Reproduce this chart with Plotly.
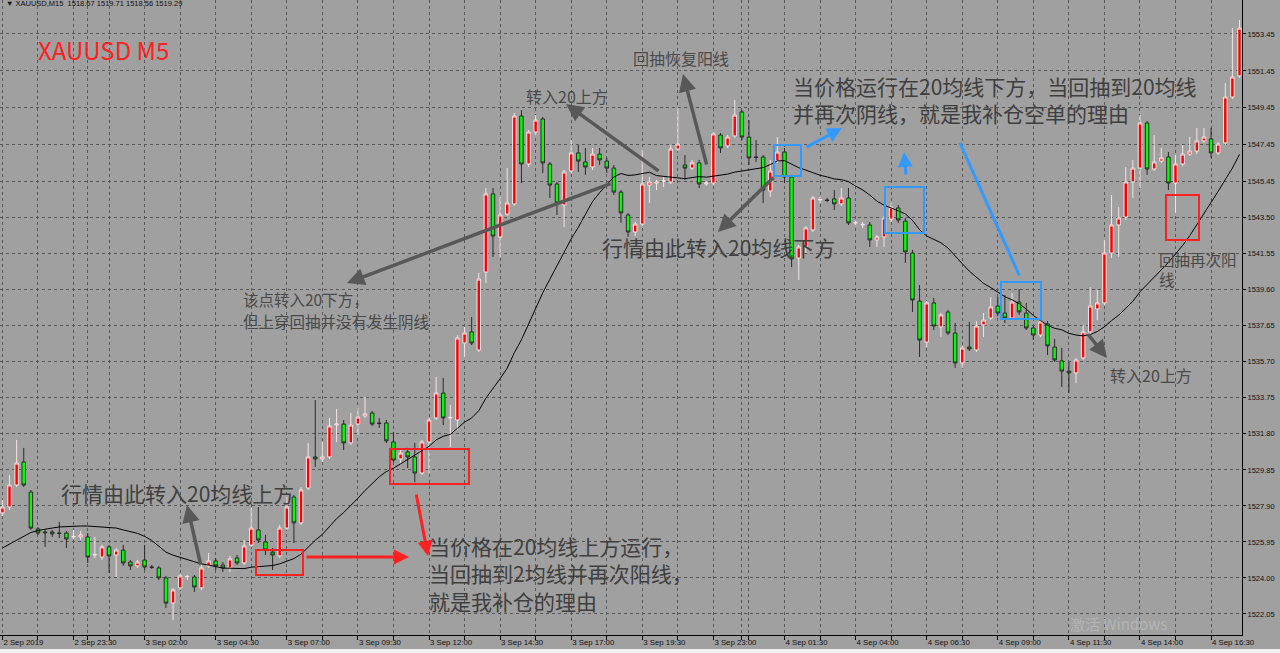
import plotly.graph_objects as go

# ---------------- data ----------------
opens = [1527.52,1527.84,1529.03,1530.28,1528.65,1526.65,1526.49,1526.49,1526.43,1526.43,
         1526.22,1526.22,1526.22,1525.24,1525.13,1525.68,1525.24,1525.51,1524.86,1524.65,
         1524.97,1524.59,1524.54,1524.00,1522.64,1523.46,1524.05,1524.05,1523.46,1524.65,
         1524.92,1524.70,1524.54,1525.08,1524.81,1525.78,1526.60,1525.95,1525.40,1525.19,
         1526.70,1528.38,1526.98,1528.87,1530.55,1530.44,1530.55,1532.28,1532.33,1531.31,
         1532.33,1532.77,1532.93,1532.39,1532.39,1531.36,1530.44,1530.82,1530.55,1529.68,
         1531.36,1532.66,1534.01,1532.66,1532.55,1536.72,1537.32,1536.34,1540.56,1544.79,
         1542.46,1543.70,1544.25,1549.01,1546.41,1548.14,1548.85,1546.41,1545.33,1544.19,
         1546.03,1547.01,1546.52,1546.25,1546.95,1546.57,1546.19,1544.89,1543.65,1542.73,
         1543.16,1545.27,1545.38,1545.49,1545.44,1547.22,1546.36,1546.19,1546.47,1545.33,
         1545.38,1547.98,1547.39,1547.93,1549.23,1547.87,1546.79,1546.79,1544.95,1546.57,
         1547.06,1545.71,1541.32,1541.92,1542.84,1544.46,1544.46,1544.52,1544.25,1544.57,
         1543.22,1543.11,1543.11,1542.30,1542.46,1543.43,1544.03,1543.32,1541.59,1538.99,
         1536.77,1538.89,1537.59,1538.40,1537.26,1535.64,1536.50,1536.34,1537.70,1538.07,
         1538.72,1538.34,1538.07,1538.94,1538.34,1537.53,1537.15,1537.75,1536.50,1535.75,
         1535.20,1535.10,1535.91,1537.32,1538.56,1538.89,1541.59,1543.11,1543.54,1545.44,
         1546.19,1548.63,1546.14,1546.57,1546.79,1545.38,1546.41,1546.95,1547.11,1547.66,
         1547.77,1547.01,1547.55,1550.04,1551.18]
highs = [1528.22,1529.57,1531.47,1531.04,1528.76,1526.76,1526.60,1526.60,1527.03,1526.54,
         1526.60,1526.54,1526.43,1526.22,1525.79,1525.79,1525.62,1525.79,1524.97,1524.97,
         1525.79,1524.70,1524.65,1524.11,1523.46,1524.22,1524.16,1524.16,1524.70,1525.35,
         1525.08,1524.86,1525.19,1525.24,1526.05,1527.79,1527.84,1526.33,1525.62,1526.87,
         1528.38,1528.49,1528.92,1531.31,1533.63,1531.36,1532.66,1533.15,1532.55,1532.93,
         1533.20,1533.80,1533.04,1532.66,1532.55,1531.90,1530.93,1531.04,1531.31,1531.47,
         1532.66,1534.88,1534.83,1533.36,1537.15,1537.59,1538.13,1540.51,1545.11,1545.11,
         1544.62,1546.19,1549.17,1549.33,1548.25,1549.06,1548.96,1546.52,1545.44,1546.09,
         1547.71,1547.44,1547.28,1547.28,1547.28,1546.74,1546.36,1545.00,1543.76,1543.27,
         1547.17,1545.71,1545.55,1545.71,1547.44,1549.44,1546.90,1546.63,1546.63,1545.49,
         1548.14,1548.09,1547.98,1549.88,1549.33,1548.79,1547.71,1546.90,1546.63,1547.87,
         1547.28,1545.82,1542.03,1543.05,1544.68,1544.62,1544.57,1545.00,1545.11,1545.11,
         1543.33,1543.27,1543.27,1542.57,1543.60,1544.30,1544.19,1543.49,1541.76,1539.86,
         1539.00,1539.16,1538.35,1538.51,1537.80,1536.56,1537.86,1537.91,1538.35,1539.21,
         1539.21,1539.32,1539.43,1539.64,1538.89,1537.64,1538.02,1537.91,1536.94,1536.45,
         1535.69,1535.91,1537.70,1539.75,1539.59,1542.30,1544.73,1544.08,1546.25,1546.63,
         1549.06,1548.74,1547.98,1547.28,1547.06,1546.90,1547.44,1547.87,1548.36,1548.36,
         1548.36,1547.60,1550.80,1553.77,1554.21]
lows = [1527.35,1527.68,1528.92,1528.92,1526.60,1526.33,1525.68,1526.22,1526.16,1525.62,
        1526.11,1526.05,1524.81,1525.08,1524.97,1524.27,1524.05,1524.65,1524.43,1524.54,
        1524.43,1524.49,1523.89,1522.37,1521.72,1523.35,1523.89,1523.24,1523.35,1524.54,
        1524.43,1524.32,1524.32,1524.70,1524.70,1525.68,1525.89,1525.24,1524.43,1525.08,
        1526.60,1525.89,1526.87,1528.76,1530.01,1530.28,1530.44,1531.36,1530.93,1531.20,
        1531.74,1532.66,1532.23,1532.12,1531.31,1530.28,1530.22,1529.95,1529.19,1529.57,
        1529.68,1532.55,1532.28,1531.09,1532.01,1535.96,1536.61,1536.23,1539.97,1541.38,
        1541.38,1543.60,1544.14,1545.38,1546.25,1547.98,1545.92,1544.57,1543.65,1543.00,
        1545.92,1545.98,1545.82,1546.09,1546.36,1545.92,1544.73,1543.22,1542.46,1542.51,
        1543.05,1544.30,1545.00,1545.16,1545.33,1547.11,1545.54,1546.09,1545.11,1545.22,
        1545.27,1547.01,1547.28,1547.82,1547.71,1546.36,1546.52,1544.30,1544.62,1546.47,
        1545.38,1540.83,1540.13,1541.60,1542.73,1544.30,1544.35,1543.92,1544.14,1543.11,
        1543.11,1542.95,1541.92,1541.92,1541.92,1543.27,1543.22,1541.05,1538.40,1535.96,
        1536.50,1537.42,1537.04,1537.15,1535.37,1535.37,1536.29,1536.23,1537.04,1537.96,
        1538.18,1537.80,1537.96,1538.24,1537.42,1536.88,1537.04,1536.07,1535.69,1534.34,
        1534.01,1534.55,1535.80,1537.21,1537.96,1538.78,1541.32,1541.38,1543.38,1544.57,
        1545.11,1545.82,1546.03,1546.47,1545.00,1543.76,1546.30,1546.85,1546.95,1547.55,
        1546.74,1546.90,1547.44,1549.93,1551.07]
closes = [1527.84,1529.03,1530.22,1529.03,1526.70,1526.43,1526.45,1526.38,1526.41,1526.11,
          1526.24,1526.33,1525.13,1525.27,1525.68,1525.19,1525.51,1524.81,1524.65,1524.86,
          1524.59,1524.57,1524.00,1522.64,1523.35,1524.11,1524.08,1523.51,1524.54,1524.92,
          1524.65,1524.54,1525.03,1524.81,1525.73,1526.70,1526.05,1525.51,1525.24,1526.70,
          1527.84,1526.98,1528.76,1530.55,1530.44,1530.55,1532.23,1532.33,1531.31,1532.28,
          1532.71,1532.88,1532.33,1532.36,1531.42,1530.38,1530.76,1530.55,1529.68,1531.36,
          1532.55,1534.01,1532.66,1532.69,1536.99,1537.26,1536.72,1540.18,1544.79,1542.51,
          1543.65,1544.30,1549.01,1546.41,1548.14,1548.79,1546.47,1545.27,1544.30,1545.98,
          1547.01,1546.57,1546.25,1546.95,1546.63,1546.19,1544.89,1543.76,1542.73,1543.16,
          1545.33,1545.44,1545.44,1545.51,1547.22,1547.49,1546.19,1546.47,1545.33,1545.38,
          1548.04,1547.28,1547.87,1549.06,1547.87,1546.74,1546.77,1545.00,1546.03,1547.06,
          1545.71,1541.27,1541.92,1542.95,1544.57,1544.49,1544.44,1544.25,1544.57,1543.22,
          1543.24,1543.14,1542.30,1542.46,1543.49,1544.08,1543.38,1541.65,1539.05,1536.88,
          1538.89,1537.64,1538.24,1537.26,1535.64,1536.45,1536.40,1537.64,1537.96,1538.67,
          1538.34,1538.07,1538.94,1538.40,1537.53,1537.15,1537.86,1536.56,1535.80,1535.20,
          1535.10,1535.80,1537.32,1538.72,1538.89,1541.59,1543.11,1543.49,1545.44,1546.19,
          1548.63,1546.14,1546.52,1546.74,1545.38,1546.41,1546.95,1547.11,1547.66,1547.87,
          1547.01,1547.49,1550.04,1551.12,1553.77]

# 20-period moving average: first 19 values, the rest from closes
ma_period = 20
ma_head = [1525.62,1525.84,1526.05,1526.27,1526.46,1526.57,1526.65,1526.70,1526.76,1526.79,
           1526.81,1526.81,1526.81,1526.79,1526.76,1526.73,1526.70,1526.60,1526.52]

x_tick_bars = [0,10,20,30,40,50,60,70,80,90,100,110,120,130,140,150,160,170]
x_tick_labels = ["2 Sep 2019","2 Sep 23:30","3 Sep 02:00","3 Sep 04:30","3 Sep 07:00",
                 "3 Sep 09:30","3 Sep 12:00","3 Sep 14:30","3 Sep 17:00","3 Sep 19:30",
                 "3 Sep 23:00","4 Sep 01:30","4 Sep 04:00","4 Sep 06:30","4 Sep 09:00",
                 "4 Sep 11:30","4 Sep 14:00","4 Sep 16:30"]
x_grid_extra = [5,12,15,25,35,45,55,65,75,85,95,104,105,115,125,135,145,155,165]
y_ticks = [1553.45,1551.45,1549.45,1547.45,1545.45,1543.50,1541.55,1539.60,1537.65,
           1535.70,1533.75,1531.80,1529.85,1527.90,1525.95,1524.00,1522.05]
y_tick_labels = ["%.2f" % v for v in y_ticks]

# ---------------- derived ----------------
n = len(closes)
bars = list(range(n))
ma = ma_head + [sum(closes[i - ma_period + 1:i + 1]) / ma_period for i in range(ma_period - 1, n)]

BG = "#a0a0a0"
GRID = "#585858"
W, H = 1280, 653
ML, MR, MT, MB = 0, 38, 0, 18
PW, PH = W - ML - MR, H - MT - MB


def px(x):
    return (x - ML) / PW


def py(y):
    return 1 - (y - MT) / PH


fig = go.Figure()
fig.add_trace(go.Candlestick(
    x=bars, open=opens, high=highs, low=lows, close=closes,
    increasing=dict(fillcolor="#ff0000", line=dict(color="#f4e4e4", width=1)),
    decreasing=dict(fillcolor="#00ff00", line=dict(color="#2a2a2a", width=1)),
    whiskerwidth=0, showlegend=False, hoverinfo="skip"))
fig.add_trace(go.Scatter(x=bars, y=ma, mode="lines", line=dict(color="#000000", width=1),
                         showlegend=False, hoverinfo="skip"))

GRAY_TXT = "#4a4a4a"
CJK = "Noto Sans CJK SC"
ann = []


def text(x, y, s, size, color=GRAY_TXT, family=CJK):
    ann.append(dict(x=px(x), y=py(y), xref="paper", yref="paper", text=s, showarrow=False,
                    xanchor="left", yanchor="middle", align="left",
                    font=dict(family=family, size=size, color=color)))


def arrow(hx, hy, tx, ty, color, width=3.5, size=1.0, head=2):
    ann.append(dict(x=px(hx), y=py(hy), xref="paper", yref="paper", ax=tx - hx, ay=ty - hy,
                    axref="pixel", ayref="pixel", text="", showarrow=True,
                    arrowhead=head, arrowsize=size, arrowwidth=width, arrowcolor=color))


# header & title
text(4, 4, "▼ XAUUSD,M15  1518.67 1519.71 1518.56 1519.29", 7.5, "#111111", "Liberation Sans")
text(36, 50, "XAUUSD M5", 24, "#ff2020")

# texts
text(524, 96, "转入20上方", 16)
text(631, 58, "回抽恢复阳线", 16)
text(791, 99, "当价格运行在20均线下方，当回抽到20均线<br>并再次阴线，就是我补仓空单的理由", 21, "#3f3f3f")
text(600, 247, "行情由此转入20均线下方", 21, "#3f3f3f")
text(241, 299, "该点转入20下方，", 15.5)
text(241, 321, "但上穿回抽并没有发生阴线", 15.5)
text(59, 493, "行情由此转入20均线上方", 21, "#3f3f3f")
text(427, 573, "当价格在20均线上方运行，<br>当回抽到2均线并再次阳线，<br>就是我补仓的理由", 21, "#3f3f3f")
text(1108, 375, "转入20上方", 16)
text(1157, 269, "回抽再次阳<br>线", 15.5)
text(1068, 623, "激活 Windows", 15, "#b4b4b4")

# arrows
G = "#585858"
arrow(566, 104, 660, 172, G)
arrow(683, 74, 707, 166, G)
arrow(718, 232, 775, 176, G)
arrow(347, 283, 612, 183, G)
arrow(187, 505, 201, 566, G)
arrow(1107, 358, 1087, 333, G)
R = "#ff2020"
arrow(409, 557, 305, 557, R, 3)
arrow(428, 556, 416, 493, R, 3)
B = "#3399ff"
arrow(842, 128, 805, 148, B, 3)
arrow(904, 152, 906, 176, B, 3)
arrow(960, 143, 1020, 277, B, 3, 1.0, 0)

shapes = []


def box(x0, y0, x1, y1, color):
    shapes.append(dict(type="rect", xref="paper", yref="paper", x0=px(x0), x1=px(x1),
                       y0=py(y1), y1=py(y0), line=dict(color=color, width=2)))


box(256, 550, 303, 575, R)
box(390, 449, 469, 484, R)
box(1166, 195, 1199, 240, R)
box(774, 145, 801, 176, B)
box(885, 187, 924, 233, B)
box(1001, 282, 1041, 319, B)
# bottom tab strip
shapes.append(dict(type="rect", xref="paper", yref="paper", x0=px(0), x1=px(1280),
                   y0=py(653), y1=py(649), line=dict(width=0), fillcolor="#f0f0f0", layer="above"))

fig.update_layout(
    width=W, height=H, margin=dict(l=ML, r=MR, t=MT, b=MB),
    paper_bgcolor=BG, plot_bgcolor=BG, annotations=ann, shapes=shapes,
    font=dict(family="Liberation Sans", size=8, color="#111111"),
    xaxis=dict(range=[-0.34, 174.35], tickvals=x_tick_bars, ticktext=x_tick_labels,
               ticklabelposition="outside right", ticks="outside", ticklen=4, tickcolor="#000",
               tickfont=dict(size=7.8), showgrid=True, gridcolor=GRID, griddash="dot", gridwidth=1,
               showline=True, linecolor="#000", linewidth=1, zeroline=False,
               rangeslider=dict(visible=False), fixedrange=True,
               minor=dict(tickvals=x_grid_extra, showgrid=True, gridcolor=GRID, griddash="dot",
                          ticks="outside", ticklen=4, tickcolor="#000")),
    yaxis=dict(range=[1520.91, 1555.29], side="right", tickvals=y_ticks, ticktext=y_tick_labels,
               ticks="outside", ticklen=3, tickcolor="#000", tickfont=dict(size=7.5),
               showgrid=True, gridcolor=GRID, griddash="dot", gridwidth=1,
               showline=True, linecolor="#000", linewidth=1, zeroline=False, fixedrange=True),
)

fig.write_html("out.html", config={"displayModeBar": False},
               post_script="document.body.style.margin='0px';document.body.style.overflow='hidden';")
